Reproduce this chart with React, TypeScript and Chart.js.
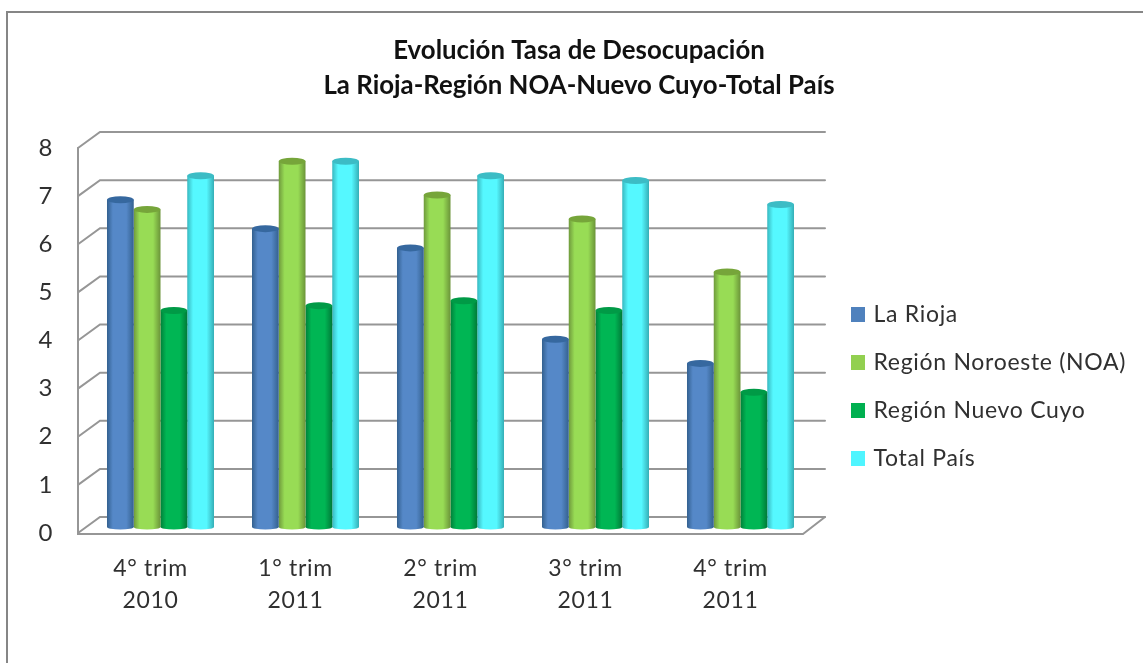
import React, { useEffect, useRef } from "react";
import { Chart, registerables } from "chart.js";

Chart.register(...registerables);

const categories = [["4° trim", "2010"], ["1° trim", "2011"], ["2° trim", "2011"], ["3° trim", "2011"], ["4° trim", "2011"]];
const laRioja = [6.8, 6.2, 5.8, 3.9, 3.4];
const noa = [6.6, 7.6, 6.9, 6.4, 5.3];
const nuevoCuyo = [4.5, 4.6, 4.7, 4.5, 2.8];
const totalPais = [7.3, 7.6, 7.3, 7.2, 6.7];
const titleLines = ["Evolución Tasa de Desocupación", "La Rioja-Región NOA-Nuevo Cuyo-Total País"];

const FONT = "Lato, 'Noto Sans', sans-serif";
const TEXT = "#303030";
const GRID = "#969696";

const tones = [
  { flat: "#4F81BD", edgeL: "#33608f", mid: "#5588c8", edgeR: "#34618f", cap: "#36689f" },
  { flat: "#92D050", edgeL: "#6f9a3c", mid: "#98dc55", edgeR: "#6b9439", cap: "#76a53a" },
  { flat: "#00B050", edgeL: "#00803a", mid: "#00b654", edgeR: "#007a38", cap: "#009a46" },
  { flat: "#4FF5FF", edgeL: "#38b8c0", mid: "#55f8ff", edgeR: "#35aeb6", cap: "#3cbcc5" },
];

const BAR_DX = 10;
const BAR_DY = -6;
const WALL_DX = 22;
const WALL_DY = -16;

const threeD = {
  id: "threeD",
  beforeLayout(chart: any) {
    const lg = chart.legend;
    if (lg && !lg.$wrapped) {
      lg.$wrapped = true;
      const fit = lg.fit.bind(lg);
      lg.fit = () => {
        fit();
        lg.width = 340;
      };
      const tb = chart.titleBlock;
      const draw = tb.draw.bind(tb);
      tb.draw = () => {
        const before = chart.ctx.letterSpacing;
        chart.ctx.letterSpacing = "0px";
        draw();
        chart.ctx.letterSpacing = before;
      };
    }
  },
  afterLayout(chart: any) {
    const tb = chart.titleBlock;
    tb.left = 15;
    tb.right = 1143;
    const lg = chart.legend;
    lg.left = 829;
    lg.right = 1143;
    lg.top = 278;
    lg.bottom = 640;
  },
  beforeDraw(chart: any) {
    chart.ctx.letterSpacing = "0.7px";
  },
  beforeDatasetsDraw(chart: any) {
    const { ctx, chartArea: a, scales } = chart;
    const y = scales.y;
    ctx.save();
    ctx.strokeStyle = GRID;
    ctx.lineWidth = 2;
    ctx.lineCap = "round";
    y.ticks.forEach((t: any) => {
      const py = y.getPixelForValue(t.value);
      ctx.beginPath();
      ctx.moveTo(a.left, py);
      ctx.lineTo(a.left + WALL_DX, py + WALL_DY);
      ctx.lineTo(a.right + WALL_DX, py + WALL_DY);
      ctx.stroke();
    });
    const y0 = y.getPixelForValue(0);
    ctx.beginPath();
    ctx.moveTo(a.left, y.getPixelForValue(8));
    ctx.lineTo(a.left, y0 + 1);
    ctx.lineTo(a.right, y0 + 1);
    ctx.lineTo(a.right + WALL_DX, y0 + WALL_DY);
    ctx.stroke();
    ctx.restore();
    ctx.save();
    ctx.translate(BAR_DX, BAR_DY);
    chart.getSortedVisibleDatasetMetas().forEach((meta: any) => {
      const tone = tones[meta.index];
      meta.data.forEach((el: any) => {
        const w = el.width;
        const g = ctx.createLinearGradient(el.x - w / 2, 0, el.x + w / 2, 0);
        g.addColorStop(0, tone.edgeL);
        g.addColorStop(0.22, tone.mid);
        g.addColorStop(0.72, tone.mid);
        g.addColorStop(1, tone.edgeR);
        el.options = { ...el.options, backgroundColor: g };
        el.$grad = g;
      });
    });
  },
  afterDatasetDraw(chart: any, args: any) {
    const { ctx } = chart;
    const tone = tones[args.index];
    args.meta.data.forEach((el: any) => {
      const rx = el.width / 2;
      ctx.beginPath();
      ctx.ellipse(el.x, el.base, rx, 2.5, 0, 0, Math.PI * 2);
      ctx.fillStyle = el.$grad;
      ctx.fill();
      ctx.beginPath();
      ctx.ellipse(el.x, el.y, rx, 3.5, 0, 0, Math.PI * 2);
      ctx.fillStyle = tone.cap;
      ctx.fill();
    });
  },
  afterDatasetsDraw(chart: any) {
    chart.ctx.restore();
  },
};

function ds(label: string, data: number[], i: number) {
  return { label, data, backgroundColor: tones[i].flat, borderWidth: 0, clip: false as const };
}

export default function App() {
  const ref = useRef<HTMLCanvasElement>(null);
  useEffect(() => {
    const chart = new Chart(ref.current!, {
      type: "bar",
      data: {
        labels: categories,
        datasets: [
          ds("La Rioja", laRioja, 0),
          ds("Región Noroeste (NOA)", noa, 1),
          ds("Región Nuevo Cuyo", nuevoCuyo, 2),
          ds("Total País", totalPais, 3),
        ],
      },
      options: {
        animation: false,
        responsive: false,
        layout: { padding: 0 },
        datasets: { bar: { barPercentage: 1, categoryPercentage: 0.738 } },
        plugins: {
          tooltip: { enabled: false },
          title: {
            display: true,
            text: titleLines,
            color: "#111111",
            font: { family: FONT, size: 25.8, weight: "bold", lineHeight: 35 / 25.8 },
            padding: { top: 33, bottom: 45 },
          },
          legend: {
            position: "right",
            align: "start",
            labels: {
              boxWidth: 8,
              boxHeight: 9,
              padding: 25,
              color: TEXT,
              font: { family: FONT, size: 23 },
              generateLabels: (c: any) =>
                c.data.datasets.map((d: any, i: number) => ({
                  text: d.label,
                  fillStyle: tones[i].flat,
                  strokeStyle: tones[i].flat,
                  lineWidth: 6,
                  fontColor: TEXT,
                  datasetIndex: i,
                })),
            },
          },
        },
        scales: {
          x: {
            grid: { display: false, drawTicks: false },
            border: { display: false },
            ticks: { color: TEXT, padding: 20, maxRotation: 0, font: { family: FONT, size: 23, lineHeight: 32 / 23 } },
            afterFit: (s: any) => { s.height = 130; },
          },
          y: {
            min: 0,
            max: 8,
            grid: { display: false, drawTicks: false },
            border: { display: false },
            ticks: { stepSize: 1, color: TEXT, padding: 25, font: { family: FONT, size: 24 } },
            afterFit: (s: any) => { s.width = 78; },
          },
        },
      },
      plugins: [threeD],
    } as any);
    return () => chart.destroy();
  }, []);
  return (
    <div style={{ position: "absolute", left: 0, top: 0, width: 1143, height: 663, overflow: "hidden", background: "#fff" }}>
      <div style={{ position: "absolute", left: 6, top: 11, width: 1200, height: 800, borderLeft: "2px solid #868686", borderTop: "2px solid #868686" }} />
      <canvas ref={ref} width={1143} height={663} style={{ position: "absolute", left: 0, top: 0, display: "block", filter: "blur(0.4px)" }} />
    </div>
  );
}
